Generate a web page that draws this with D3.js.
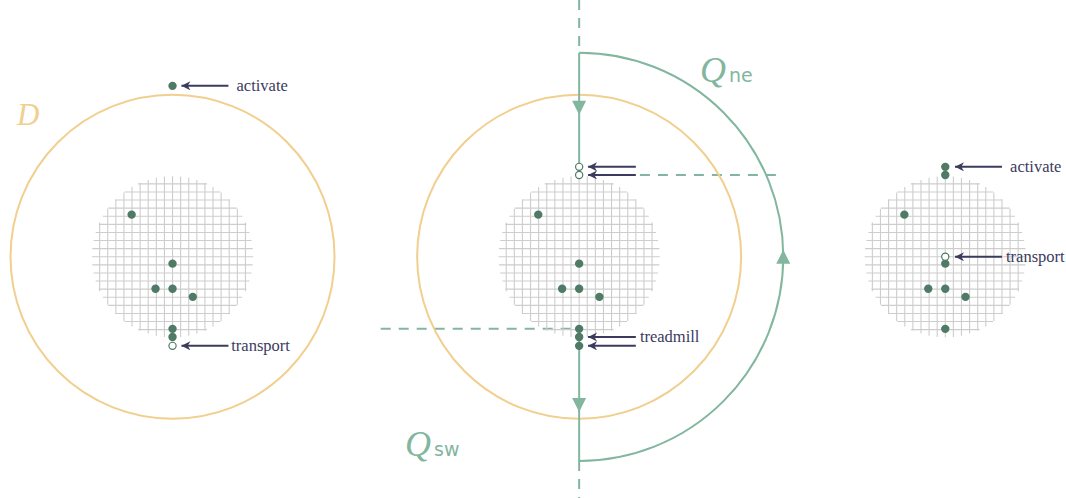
<!DOCTYPE html>
<html><head><meta charset="utf-8">
<script src="https://cdn.jsdelivr.net/npm/d3@7"></script>
<style>body{margin:0;background:#fff;} svg{display:block;}</style>
</head><body>
<svg id="c" width="1066" height="498"></svg>
<script>
// ---- data (grid units; origin = grid centre, y down) ----
const panels = ["left", "middle", "right"];
const panelCenterX = [21.3, 71.5, 116.7];   // in grid units from page left
const panelCenterY = 31.7;
const bigRadius = [20, 20, 0];              // orange domain circle (0 = none)
const gridRadius = 9.95;
// filled dots per panel
const dotsLeft   = [[-5.05,-5.2],[0,0.85],[-2.1,3.95],[0,3.95],[2.5,4.95],[0,8.9],[0,9.9],[0,-21.1]];
const openLeft   = [[0,11.0]];
const dotsMiddle = [[-5.05,-5.2],[0,0.85],[-2.1,3.95],[0,3.95],[2.5,4.95],[0,8.9],[0,9.9],[0,11.0]];
const openMiddle = [[0,-11.1],[0,-10.1]];
const dotsRight  = [[0,-11.1],[0,-10.1],[-5.05,-5.2],[0,0.85],[-2.1,3.95],[0,3.95],[2.5,4.95],[0,8.9]];
const openRight  = [[0,0]];
// arrows: [panel, y, tailX, tipX, label]
const arrows = [
  [0,-21.1, 6.9, 1.1, "activate"],
  [0, 11.0, 6.9, 1.1, "transport"],
  [1,-11.1, 7.0, 1.1, ""],
  [1,-10.1, 7.0, 1.1, ""],
  [1,  9.9, 7.0, 1.1, "treadmill"],
  [1, 11.0, 7.0, 1.1, ""],
  [2,-11.1, 7.0, 1.2, "activate"],
  [2,  0.0, 7.0, 1.2, "transport"]
];
const labelOffset = [1.0, 0.35, 0.5, 0, 0.5, 0, 1.0, 0.5];
const loopRadius = 25.2;

// ---- scales ----
const unit = 8.1;
const X = d3.scaleLinear().domain([0, 1]).range([0, unit]);
const Y = d3.scaleLinear().domain([0, 1]).range([0, unit]);

const green = "#82b69f", dotCol = "#4f7a66", navy = "#3b3b5e", orange = "#f1cf8e", gridCol = "#cdcdcd";
const svg = d3.select("#c");
const defs = svg.append("defs");
defs.append("marker").attr("id","ah").attr("viewBox","0 0 10 10").attr("refX",10).attr("refY",5)
  .attr("markerWidth",5).attr("markerHeight",4.5).attr("orient","auto").attr("markerUnits","strokeWidth")
  .append("path").attr("d","M0,0 L10,5 L0,10 L3,5 Z").attr("fill",navy);

const cy = Y(panelCenterY);

// ---- middle panel dashed & loop (drawn beneath) ----
const mx = X(panelCenterX[1]);
const dash = "10,8";
const gL = svg.append("g");
gL.append("line").attr("x1",mx).attr("x2",mx).attr("y1",0).attr("y2",cy - Y(loopRadius))
  .attr("stroke",green).attr("stroke-width",2).attr("stroke-dasharray",dash);
gL.append("line").attr("x1",mx).attr("x2",mx).attr("y1",cy + Y(loopRadius)).attr("y2",498)
  .attr("stroke",green).attr("stroke-width",2).attr("stroke-dasharray",dash);
gL.append("line").attr("x1",mx + X(7.5)).attr("x2",mx + X(loopRadius)).attr("y1",cy + Y(-10.1)).attr("y2",cy + Y(-10.1))
  .attr("stroke",green).attr("stroke-width",2).attr("stroke-dasharray",dash);
gL.append("line").attr("x1",X(47)).attr("x2",mx).attr("y1",cy + Y(8.9)).attr("y2",cy + Y(8.9))
  .attr("stroke",green).attr("stroke-width",2).attr("stroke-dasharray",dash);

panels.forEach((p, i) => {
  const cx = X(panelCenterX[i]);
  const g = svg.append("g");
  if (bigRadius[i] > 0) {
    g.append("circle").attr("cx",cx).attr("cy",cy).attr("r",X(bigRadius[i]))
      .attr("fill","none").attr("stroke",orange).attr("stroke-width",2);
  }
  // grid
  const ks = d3.range(-9, 10);
  ks.forEach(k => {
    const h = Math.sqrt(Math.max(0, gridRadius*gridRadius - k*k));
    g.append("line").attr("x1",cx + X(k)).attr("x2",cx + X(k)).attr("y1",cy - Y(h)).attr("y2",cy + Y(h))
      .attr("stroke",gridCol).attr("stroke-width",1.1);
    g.append("line").attr("y1",cy + Y(k)).attr("y2",cy + Y(k)).attr("x1",cx - X(h)).attr("x2",cx + X(h))
      .attr("stroke",gridCol).attr("stroke-width",1.1);
  });
});

// loop path (solid) in middle panel
const R = X(loopRadius);
const pathD = d3.path();
pathD.moveTo(mx, cy - R); pathD.lineTo(mx, cy + Y(-10.1));
pathD.moveTo(mx, cy + Y(8.9)); pathD.lineTo(mx, cy + R);
svg.append("path").attr("d", pathD.toString()).attr("fill","none").attr("stroke",green).attr("stroke-width",2);
const arc = d3.path();
arc.moveTo(mx, cy + R);
arc.arc(mx, cy, R, Math.PI/2, -Math.PI/2, true);
svg.append("path").attr("d", arc.toString()).attr("fill","none").attr("stroke",green).attr("stroke-width",2);
// flow arrowheads
const flowHeads = [[mx, cy - Y(18.4), 90], [mx, cy + Y(18.3), 90], [mx + R, cy, -90]];
flowHeads.forEach(([x,y,a]) => {
  svg.append("path").attr("d","M7,0 L-7,-7 L-7,7 Z")
    .attr("transform",`translate(${x},${y}) rotate(${a})`).attr("fill",green);
});

// dots
const dotSets = [[dotsLeft, openLeft],[dotsMiddle, openMiddle],[dotsRight, openRight]];
dotSets.forEach(([filled, open], i) => {
  const cx = X(panelCenterX[i]);
  svg.selectAll(null).data(filled).join("circle")
    .attr("cx", d => cx + X(d[0])).attr("cy", d => cy + Y(d[1])).attr("r",4.2).attr("fill",dotCol);
  svg.selectAll(null).data(open).join("circle")
    .attr("cx", d => cx + X(d[0])).attr("cy", d => cy + Y(d[1])).attr("r",3.6)
    .attr("fill","#fff").attr("stroke",dotCol).attr("stroke-width",1.2);
});

// annotation arrows
arrows.forEach((a, j) => {
  const [pi, y, tail, tip, label] = a;
  const cx = X(panelCenterX[pi]);
  svg.append("line").attr("x1",cx + X(tail)).attr("x2",cx + X(tip)).attr("y1",cy + Y(y)).attr("y2",cy + Y(y))
    .attr("stroke",navy).attr("stroke-width",2).attr("marker-end","url(#ah)");
  if (label) {
    svg.append("text").attr("x",cx + X(tail + labelOffset[j])).attr("y",cy + Y(y)).attr("dy","0.32em")
      .attr("font-family","Liberation Serif, serif").attr("font-size",16.5).attr("fill",navy).text(label);
  }
});

// labels
svg.append("text").attr("x",17).attr("y",125).attr("font-family","Liberation Serif, serif")
  .attr("font-style","italic").attr("font-size",31).attr("fill",orange).text("D");
function qLabel(x, y, sub) {
  const t = svg.append("text").attr("x",x).attr("y",y).attr("fill",green);
  t.append("tspan").attr("font-family","Liberation Serif, serif").attr("font-style","italic").attr("font-size",36).text("Q");
  t.append("tspan").attr("font-family","DejaVu Sans, sans-serif").attr("font-size",19).attr("dx",3).attr("dy",0).text(sub);
}
qLabel(700, 82, "ne");
qLabel(405, 456, "sw");
</script>
</body></html>
